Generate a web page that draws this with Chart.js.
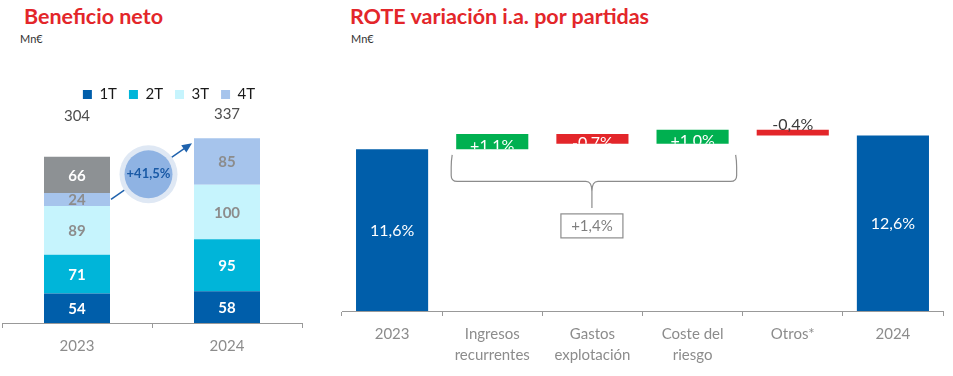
<!DOCTYPE html>
<html>
<head>
<meta charset="utf-8">
<script src="https://cdn.jsdelivr.net/npm/chart.js@4.4.0/dist/chart.umd.min.js"></script>
<style>
  body { margin: 0; width: 953px; height: 376px; position: relative; background: #fff; font-family: Lato, sans-serif; overflow: hidden; }
  .title { position: absolute; top: 3px; color: #e3262a; font-weight: bold; font-size: 21.5px; white-space: nowrap; }
  .unit { position: absolute; top: 32px; color: #333; font-size: 11px; }
  .box { position: absolute; top: 0; height: 376px; }
</style>
</head>
<body>
<div class="title" style="left:24px">Beneficio neto</div>
<div class="unit" style="left:20px">Mn€</div>
<div class="title" style="left:350px">ROTE variación i.a. por partidas</div>
<div class="unit" style="left:351px">Mn€</div>
<div class="box" style="left:0;width:340px"><canvas id="chartLeft"></canvas></div>
<div class="box" style="left:330px;width:623px"><canvas id="chartRight"></canvas></div>

<script>
"use strict";

// 1: data
const years = ['2023', '2024'];
const q1 = [54, 58];
const q2 = [71, 95];
const q3 = [89, 100];
const q4 = [24, 85];
const q4Other = [66, null];   // grey block on top of 2023
const totals = [304, 337];
const growthText = '+41,5%';

const roteCats = ['2023', ['Ingresos', 'recurrentes'], ['Gastos', 'explotación'], ['Coste del', 'riesgo'], 'Otros*', '2024'];
const roteStart = 11.6;
const roteSteps = [1.1, -0.7, 1.0, -0.4];
const roteEnd = 12.6;
const roteText = ['11,6%', '+1,1%', '-0,7%', '+1,0%', '-0,4%', '12,6%'];
const braceText = '+1,4%';

Chart.defaults.font.family = 'Lato, sans-serif';

// 2: left chart, stacked bars
const segColors = ['#005eaa', '#00b5d9', '#c6f4fd', '#a6c4ec', '#8d9194'];
const segTextColors = ['#ffffff', '#ffffff', '#8c8c8c', '#8c8c8c', '#ffffff'];

const leftLabels = {
  id: 'leftLabels',
  afterDatasetsDraw(chart) {
    const ctx = chart.ctx;
    const ys = chart.scales.y;
    ctx.save();
    ctx.textAlign = 'center';
    ctx.textBaseline = 'middle';
    ctx.font = 'bold 15px Lato';
    chart.data.datasets.forEach((ds, di) => {
      chart.getDatasetMeta(di).data.forEach((bar, i) => {
        if (!ds.data[i]) return;
        ctx.fillStyle = segTextColors[di];
        ctx.fillText(ds.data[i], bar.x, (bar.y + bar.base) / 2 + 1);
      });
    });

    const bars = chart.getDatasetMeta(0).data;
    ctx.font = '15px Lato';
    ctx.fillStyle = '#4d4d4d';
    totals.forEach((t, i) => ctx.fillText(t, bars[i].x, chart.chartArea.top + 4 - 2 * i));

    // growth arrow
    const x1 = bars[0].x + bars[0].width / 2 + 1;
    const y1 = ys.getPixelForValue(q1[0] + q2[0] + q3[0] + q4[0] / 2);
    const x2 = bars[1].x - bars[1].width / 2 - 2;
    const y2 = ys.getPixelForValue(totals[1] - 8);
    const ang = Math.atan2(y2 - y1, x2 - x1);
    ctx.strokeStyle = '#1f62ad';
    ctx.fillStyle = '#1f62ad';
    ctx.lineWidth = 1.5;
    ctx.beginPath();
    ctx.moveTo(x1, y1);
    ctx.lineTo(x2 - 6 * Math.cos(ang), y2 - 6 * Math.sin(ang));
    ctx.stroke();
    ctx.beginPath();
    ctx.moveTo(x2, y2);
    ctx.lineTo(x2 - 10 * Math.cos(ang) + 4.5 * Math.sin(ang), y2 - 10 * Math.sin(ang) - 4.5 * Math.cos(ang));
    ctx.lineTo(x2 - 10 * Math.cos(ang) - 4.5 * Math.sin(ang), y2 - 10 * Math.sin(ang) + 4.5 * Math.cos(ang));
    ctx.closePath();
    ctx.fill();

    const cx = (x1 + x2) / 2 - 3, cy = (y1 + y2) / 2 + 3;
    ctx.fillStyle = '#dfe8f4';
    ctx.beginPath(); ctx.arc(cx, cy, 29, 0, Math.PI * 2); ctx.fill();
    ctx.fillStyle = '#8fb3e3';
    ctx.beginPath(); ctx.arc(cx, cy, 24, 0, Math.PI * 2); ctx.fill();
    ctx.fillStyle = '#1a5aa6';
    ctx.font = 'bold 13px Lato';
    ctx.fillText(growthText, cx, cy);
    ctx.restore();
  }
};

new Chart(document.getElementById('chartLeft'), {
  type: 'bar',
  data: {
    labels: years,
    datasets: [
      { label: '1T', data: q1, backgroundColor: segColors[0] },
      { label: '2T', data: q2, backgroundColor: segColors[1] },
      { label: '3T', data: q3, backgroundColor: segColors[2] },
      { label: '4T', data: q4, backgroundColor: segColors[3] },
      { label: 'otros', data: q4Other, backgroundColor: segColors[4] }
    ]
  },
  options: {
    responsive: true,
    maintainAspectRatio: false,
    animation: false,
    layout: { padding: { top: 75, left: 2, right: 4, bottom: 12 } },
    datasets: { bar: { barPercentage: 0.44, categoryPercentage: 1 } },
    plugins: {
      tooltip: { enabled: false },
      legend: {
        position: 'top',
        labels: {
          boxWidth: 9, boxHeight: 9, padding: 12,
          color: '#1a1a1a', font: { size: 15 },
          filter: item => item.datasetIndex < 4
        }
      }
    },
    scales: {
      x: {
        stacked: true,
        grid: { display: true, drawOnChartArea: false, drawTicks: true, tickLength: 5, color: '#999' },
        border: { display: true, color: '#999' },
        ticks: { color: '#8c8c8c', font: { size: 15 }, padding: 9 }
      },
      y: {
        stacked: true, position: 'right', min: 0, max: 386,
        grid: { display: false }, border: { display: false }, ticks: { display: false },
        afterFit(scale) { scale.width = 34; }
      }
    }
  },
  plugins: [leftLabels]
});

// 3: right chart, waterfall
const roteRanges = [[0, roteStart]];
let level = roteStart;
for (const s of roteSteps) {
  roteRanges.push([level, +(level + s).toFixed(2)]);
  level = +(level + s).toFixed(2);
}
roteRanges.push([0, roteEnd]);
const roteColors = roteRanges.map((r, i) =>
  (i === 0 || i === roteRanges.length - 1) ? '#005eaa' : (r[1] > r[0] ? '#00b050' : '#e3262a'));

const brace = { top: 11.2, mid: 9.3, tip: 7.4 };

const roteLabels = {
  id: 'roteLabels',
  afterDatasetsDraw(chart) {
    const ctx = chart.ctx;
    const ys = chart.scales.y;
    const bars = chart.getDatasetMeta(0).data;
    ctx.save();
    ctx.textAlign = 'center';
    ctx.textBaseline = 'middle';
    ctx.font = '16px Lato';
    bars.forEach((bar, i) => {
      const top = Math.min(bar.y, bar.base);
      const bot = Math.max(bar.y, bar.base);
      const left = bar.x - bar.width / 2;
      if (i === 0 || i === bars.length - 1) {
        ctx.fillStyle = '#fff';
        ctx.fillText(roteText[i], bar.x, (top + bot) / 2 + 1);
      } else if (bot - top > 8) {
        ctx.save();
        ctx.beginPath();
        ctx.rect(left, top, bar.width, bot - top);
        ctx.clip();
        ctx.fillStyle = '#fff';
        ctx.fillText(roteText[i], bar.x, (top + bot) / 2 + 4);
        ctx.restore();
      } else {
        ctx.fillStyle = '#3a3a3a';
        ctx.fillText(roteText[i], bar.x, top - 5);
      }
    });

    // brace under the three operating items
    const L = bars[1].x - bars[1].width / 2 - 4;
    const R = bars[3].x + bars[3].width / 2 + 7;
    const C = (L + R) / 2 - 2;
    const yT = ys.getPixelForValue(brace.top);
    const yM = ys.getPixelForValue(brace.mid);
    const yB = ys.getPixelForValue(brace.tip);
    const r = 6;
    ctx.strokeStyle = '#8c8c8c';
    ctx.lineWidth = 1.2;
    ctx.beginPath();
    ctx.moveTo(L, yT);
    ctx.quadraticCurveTo(L - 1, yT + 6, L - 1, yT + 12);
    ctx.lineTo(L - 1, yM - r);
    ctx.quadraticCurveTo(L - 1, yM, L - 1 + r, yM);
    ctx.lineTo(C - r, yM);
    ctx.quadraticCurveTo(C, yM, C, yM + r + 4);
    ctx.lineTo(C, yB);
    ctx.moveTo(R, yT);
    ctx.quadraticCurveTo(R + 1, yT + 6, R + 1, yT + 12);
    ctx.lineTo(R + 1, yM - r);
    ctx.quadraticCurveTo(R + 1, yM, R + 1 - r, yM);
    ctx.lineTo(C + r, yM);
    ctx.quadraticCurveTo(C, yM, C, yM + r + 4);
    ctx.stroke();

    ctx.strokeStyle = '#8c8c8c';
    ctx.lineWidth = 1.2;
    ctx.strokeRect(C - 31, yB + 6, 62, 24);
    ctx.fillStyle = '#7f7f7f';
    ctx.font = '15px Lato';
    ctx.fillText(braceText, C, yB + 18);
    ctx.restore();
  }
};

new Chart(document.getElementById('chartRight'), {
  type: 'bar',
  data: {
    labels: roteCats,
    datasets: [{ label: 'ROTE', data: roteRanges, backgroundColor: roteColors }]
  },
  options: {
    responsive: true,
    maintainAspectRatio: false,
    animation: false,
    layout: { padding: { top: 102, left: 12, right: 10, bottom: 2 } },
    datasets: { bar: { barPercentage: 0.72, categoryPercentage: 1 } },
    plugins: { legend: { display: false }, tooltip: { enabled: false } },
    scales: {
      x: {
        grid: { display: true, drawOnChartArea: false, drawTicks: true, tickLength: 5, color: '#999' },
        border: { display: true, color: '#999' },
        ticks: { color: '#8c8c8c', font: { size: 15, lineHeight: 1.4 }, padding: 8 }
      },
      y: { display: false, min: 0, max: 15 }
    }
  },
  plugins: [roteLabels]
});
</script>
</body>
</html>
